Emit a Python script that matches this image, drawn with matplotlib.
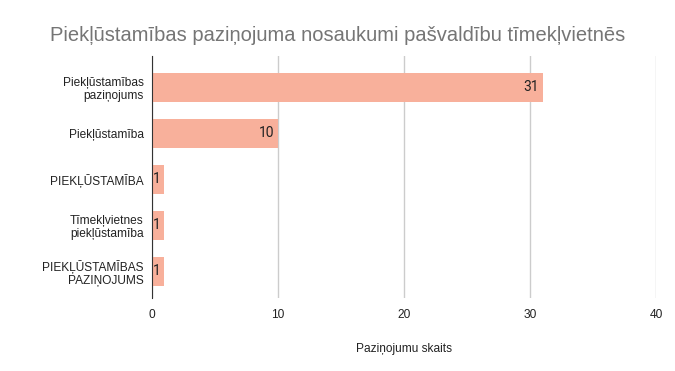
import matplotlib.pyplot as plt

# Data
categories = [
    "Piekļūstamības\npaziņojums",
    "Piekļūstamība",
    "PIEKĻŪSTAMĪBA",
    "Tīmekļvietnes\npiekļūstamība",
    "PIEKĻŪSTAMĪBAS\nPAZIŅOJUMS",
]
counts = [31, 10, 1, 1, 1]
x_ticks = [0, 10, 20, 30, 40]

plt.rcParams['font.family'] = ['Liberation Sans', 'DejaVu Sans']

fig = plt.figure(figsize=(6.75, 3.71), dpi=100)
ax = fig.add_axes([0.225, 0.197, 0.747, 0.652])

pos = list(range(len(categories)))
ax.barh(pos, counts, height=0.63, color='#f8b09b', zorder=2)

for y, v in zip(pos, counts):
    ax.text(v - 0.3, y, str(v), ha='right', va='center', fontsize=10,
            color='#222222', family=['Roboto', 'DejaVu Sans'], zorder=3)

ax.set_xlim(0, 40)
ax.set_ylim(4.58, -0.68)
ax.set_xticks(x_ticks)
ax.set_yticks(pos)
ax.set_yticklabels(categories, fontsize=8.6, color='#222222', linespacing=1.1)
ax.tick_params(axis='x', labelsize=8.6, colors='#222222', length=0, pad=8)
ax.tick_params(axis='y', length=0, pad=6)

ax.grid(axis='x', color='#cccccc', linewidth=1, zorder=0)
for s in ['top', 'right', 'bottom']:
    ax.spines[s].set_visible(False)
ax.spines['left'].set_color('#333333')
ax.spines['left'].set_zorder(4)

ax.set_xlabel("Paziņojumu skaits", fontsize=8.6, color='#222222', labelpad=16)

fig.text(0.5, 0.903, "Piekļūstamības paziņojuma nosaukumi pašvaldību tīmekļvietnēs",
         ha='center', va='center', fontsize=14.5, color='#757575')

fig.savefig('out.png', dpi=100)
